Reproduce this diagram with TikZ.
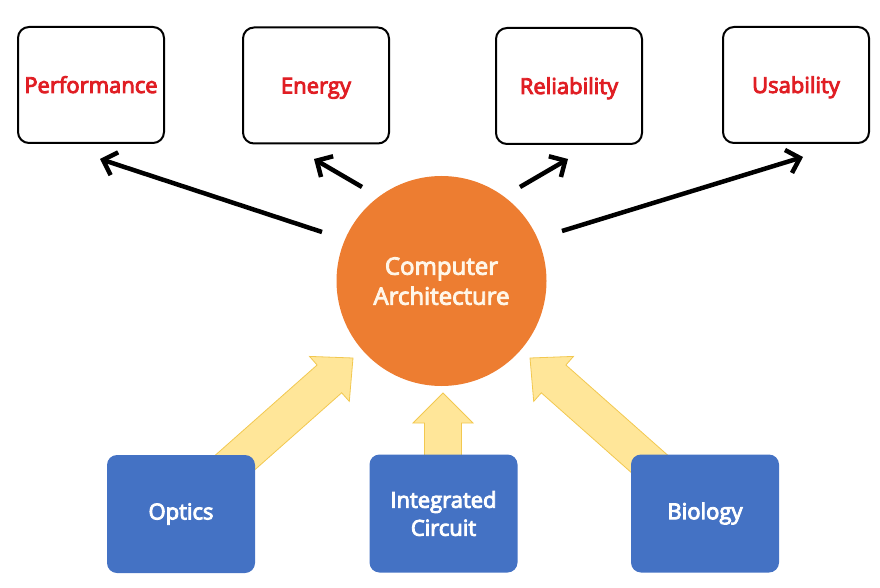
\documentclass[tikz,border=0pt]{standalone}
\usepackage{fontspec}
\usetikzlibrary{arrows.meta}
\newfontfamily\lbl{Open Sans}
\newcommand\heavy[1]{\special{pdf:literal direct 2 Tr 0.9 w}#1\special{pdf:literal direct 0 Tr}}
\definecolor{myred}{RGB}{224,30,36}
\definecolor{myorange}{RGB}{237,125,49}
\definecolor{myblue}{RGB}{68,114,196}
\definecolor{myyellow}{RGB}{255,230,153}
\definecolor{myyedge}{RGB}{242,200,80}
\definecolor{mycream}{RGB}{255,246,232}
\tikzset{
  topbox/.style={draw=black, line width=2pt, rounded corners=11pt, minimum width=146pt, minimum height=116pt, inner sep=0pt,
    font=\lbl\fontsize{22}{26}\selectfont, text=myred, text height=16pt, text depth=0pt},
  botbox/.style={fill=myblue, rounded corners=10pt, minimum width=148pt, minimum height=118pt, inner sep=0pt,
    font=\lbl\fontsize{22}{28}\selectfont, text=white, align=center},
  hub/.style={circle, fill=myorange, minimum size=210pt, inner sep=0pt, text=mycream,
    font=\lbl\fontsize{24}{30}\selectfont, align=center, text depth=0pt},
  blk/.style={line width=4.5pt, -{Straight Barb[length=12pt,width=24pt]}},
  ya/.style={fill=myyellow, draw=myyedge, line width=0.8pt, line join=miter}
}
\begin{document}
\begin{tikzpicture}[x=1pt,y=-1pt]
\useasboundingbox (0,0) rectangle (880,588);
% hub
\node[hub] (ca) at (441.5,281) {\heavy{Computer}\\\heavy{Architecture}};
% block arrows
\coordinate (optip) at (353,358);
\coordinate (ictip) at (443,393);
\coordinate (bitip) at (530,358);
\draw[ya] (optip) -- (349.3,401.4) -- (341.7,392.8) -- (229.4,492.3) -- (204.8,464.5) -- (317.1,365.0) -- (309.5,356.4) -- cycle;
\draw[ya] (ictip) -- (473,423) -- (461.5,423) -- (461.5,462) -- (424.5,462) -- (424.5,423) -- (413,423) -- cycle;
\draw[ya] (bitip) -- (533.7,401.4) -- (541.3,392.8) -- (653.6,492.3) -- (678.2,464.5) -- (565.9,365.0) -- (573.5,356.4) -- cycle;
% bottom boxes
\node[botbox] (op) at (181,514) {\heavy{Optics}};
\node[botbox] (ic) at (443.5,513.5) {\heavy{Integrated}\\\heavy{Circuit}};
\node[botbox] (bi) at (705,513.5) {\heavy{Biology}};
% top boxes
\node[topbox] (pf) at (91,85) {\heavy{Performance}};
\node[topbox] (en) at (316,85.5) {\heavy{Energy}};
\node[topbox] (re) at (569,86) {\heavy{Reliability}};
\node[topbox] (us) at (796,85) {\heavy{Usability}};
% black arrows
\coordinate (t1) at (322,232); \coordinate (h1) at (100,159);
\coordinate (t2) at (362,187); \coordinate (h2) at (314,159);
\coordinate (t3) at (520,187); \coordinate (h3) at (568,159);
\coordinate (t4) at (562,231); \coordinate (h4) at (803,157);
\draw[blk] (t1) -- (h1);
\draw[blk] (t2) -- (h2);
\draw[blk] (t3) -- (h3);
\draw[blk] (t4) -- (h4);
\end{tikzpicture}
\end{document}
